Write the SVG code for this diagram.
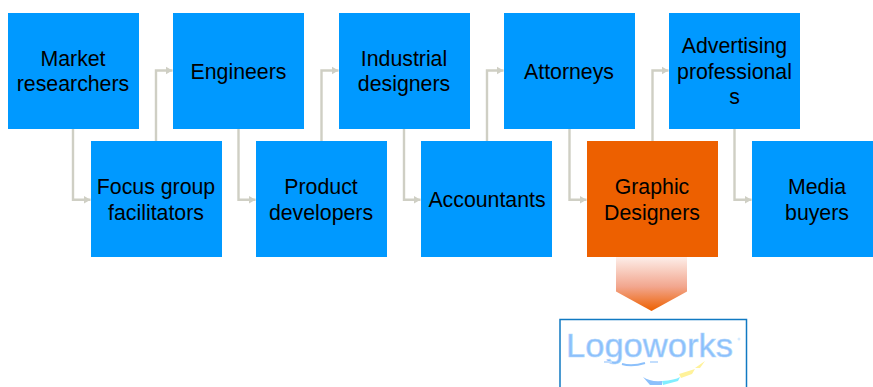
<svg xmlns="http://www.w3.org/2000/svg" width="873" height="387" viewBox="0 0 873 387">
<style>
.box{fill:#0099ff}
.t{font-family:"Liberation Sans",Arial,sans-serif;font-size:21.3px;fill:#000;text-anchor:middle}
.c{fill:none;stroke:#cfcfc4;stroke-width:2.4;marker-end:url(#a)}
</style>
<defs>
<marker id="a" markerUnits="userSpaceOnUse" markerWidth="10" markerHeight="10" refX="7" refY="4.500" orient="auto"><path d="M0 0.500L7 4.500L0 8.500Z" fill="#cfcfc4"/></marker>
<linearGradient id="g" x1="0" y1="0" x2="0" y2="1"><stop offset="0" stop-color="#fdeee9"/><stop offset=".55" stop-color="#f2a68e"/><stop offset="1" stop-color="#ed6000"/></linearGradient>
</defs>
<rect width="873" height="387" fill="#fff"/>
<g id="connectors">
<path class="c" d="M73 129V199.800H90.500"/>
<path class="c" d="M156 141V70.500H172.500"/>
<path class="c" d="M238.500 129V199.800H255.500"/>
<path class="c" d="M321.500 141V70.500H338.500"/>
<path class="c" d="M404 129V199.800H420.500"/>
<path class="c" d="M487 141V70.500H503.500"/>
<path class="c" d="M569.500 129V199.800H586.500"/>
<path class="c" d="M652.500 141V70.500H668.500"/>
<path class="c" d="M734.500 129V199.800H751.500"/>
</g>
<g id="n1"><rect class="box" x="8" y="13" width="131" height="116"/><text class="t" x="73" y="66">Market</text><text class="t" x="73" y="91">researchers</text></g>
<g id="n2"><rect class="box" x="173" y="13" width="131" height="116"/><text class="t" x="238.500" y="79">Engineers</text></g>
<g id="n3"><rect class="box" x="339" y="13" width="131" height="116"/><text class="t" x="404" y="66">Industrial</text><text class="t" x="404" y="91">designers</text></g>
<g id="n4"><rect class="box" x="504" y="13" width="131" height="116"/><text class="t" x="569" y="79">Attorneys</text></g>
<g id="n5"><rect class="box" x="669" y="13" width="131" height="116"/><text class="t" x="734.500" y="53">Advertising</text><text class="t" x="734.500" y="79">professional</text><text class="t" x="734.500" y="104">s</text></g>
<g id="n6"><rect class="box" x="91" y="141" width="131" height="116"/><text class="t" x="156" y="194">Focus group</text><text class="t" x="156" y="220">facilitators</text></g>
<g id="n7"><rect class="box" x="256" y="141" width="131" height="116"/><text class="t" x="321" y="194">Product</text><text class="t" x="321" y="220">developers</text></g>
<g id="n8"><rect class="box" x="421" y="141" width="131" height="116"/><text class="t" x="487" y="207">Accountants</text></g>
<g id="n9"><rect x="587" y="141" width="131" height="116" fill="#ed6000"/><text class="t" x="652" y="194">Graphic</text><text class="t" x="652" y="220">Designers</text></g>
<g id="n10"><rect class="box" x="752" y="141" width="121" height="116"/><text class="t" x="817" y="194">Media</text><text class="t" x="817" y="220">buyers</text></g>
<g id="arrow"><path d="M616 257H687V291.500L651.500 311L616 291.500Z" fill="url(#g)"/></g>
<g id="logo">
<rect x="560" y="319.500" width="186.500" height="72" fill="#fff" stroke="#1079c2" stroke-width="1.500"/>
<text x="566" y="357" font-family="'Liberation Sans',Arial,sans-serif" font-size="33" fill="#8cc0fb" stroke="#b5d8fd" stroke-width=".6" textLength="167" lengthAdjust="spacingAndGlyphs">Logoworks</text>
<circle cx="739" cy="339" r="1.500" fill="#d5ebff"/>
<path d="M643 377Q650 382 662 381L662 385H650Z" fill="#8cc0fb"/>
<path d="M662 381Q675 380 680 377L678 381L663 385Z" fill="#80eeff"/>
<path d="M679 374L695 369L692 374L681 378Z" fill="#fff29a"/>
<path d="M695 368L705 361L700 368Z" fill="#fff29a"/>
<path d="M622 364Q632 367 645 363" fill="none" stroke="#8cc0fb" stroke-width="2"/>
<path d="M604 362H612M650 362H658" fill="none" stroke="#c3defd" stroke-width="2"/>
</g>
</svg>
